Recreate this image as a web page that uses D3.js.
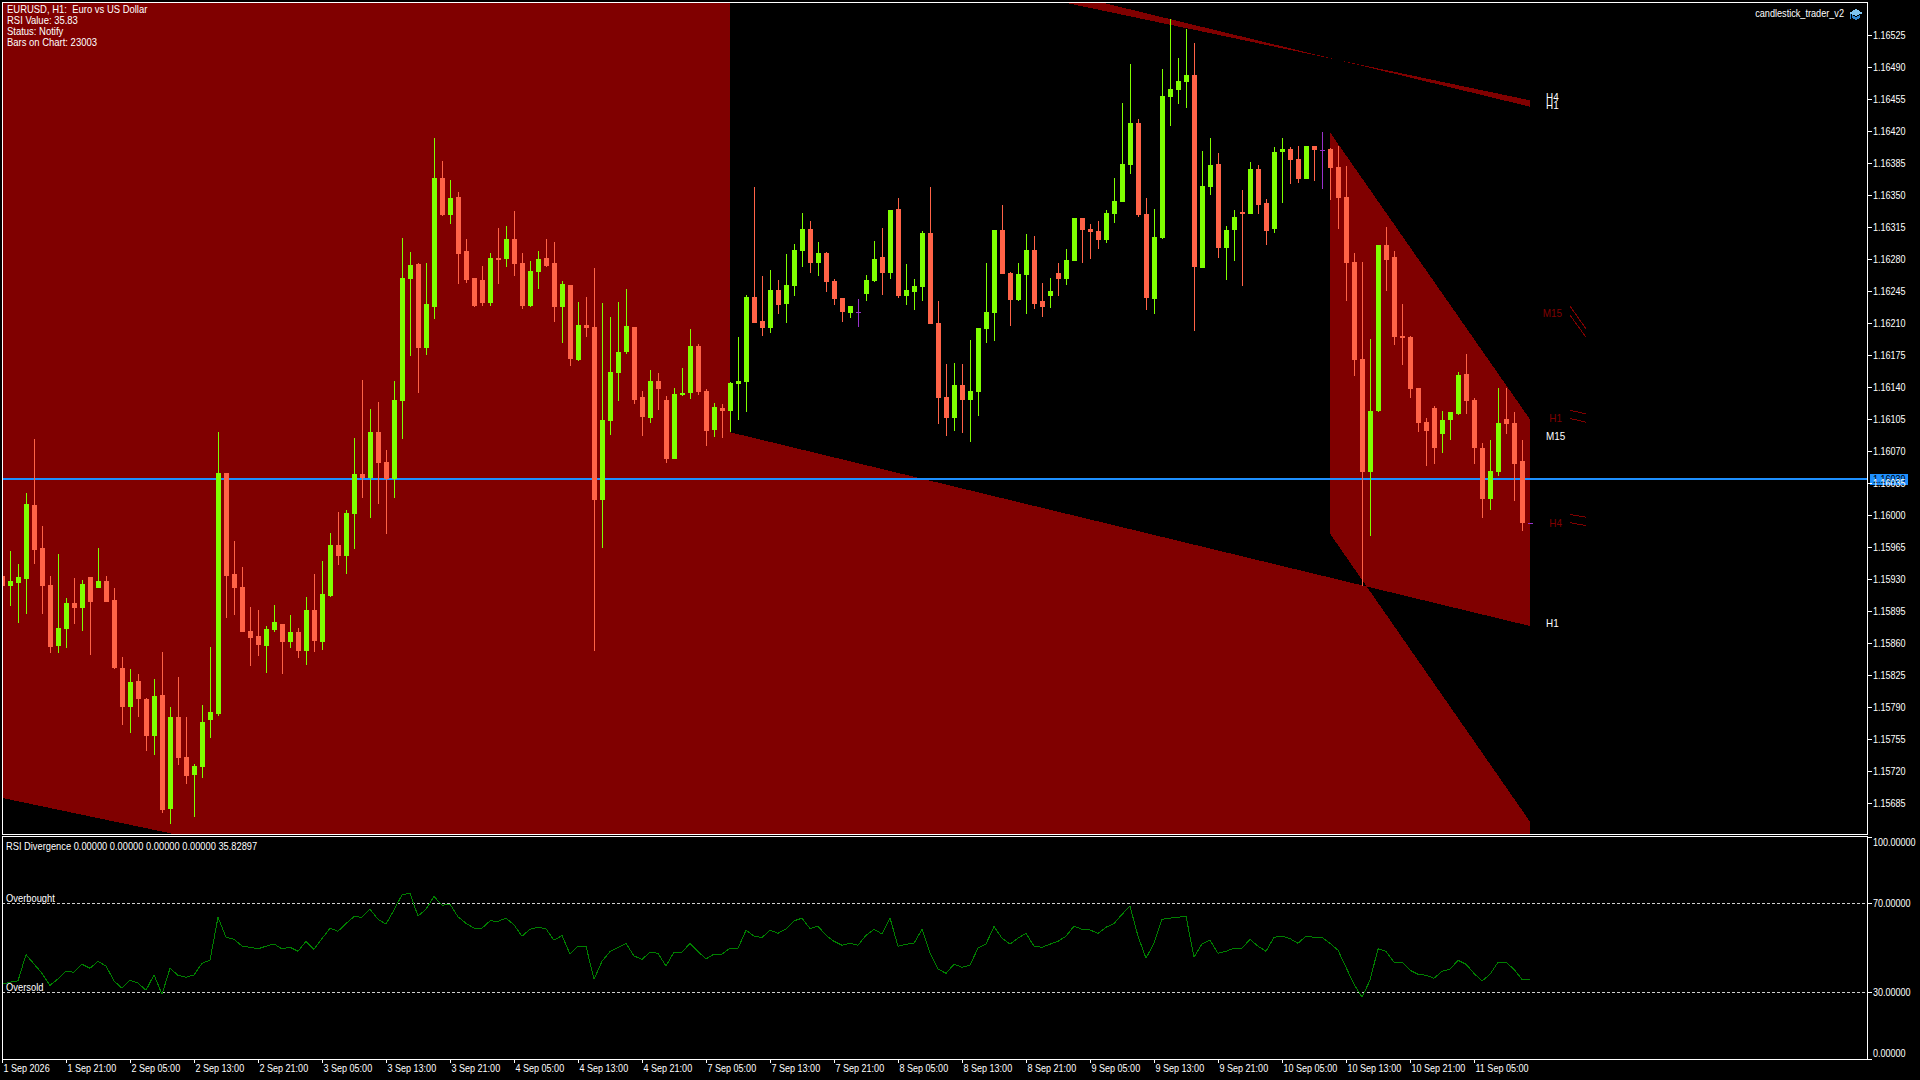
<!DOCTYPE html>
<html>
<head>
<meta charset="utf-8">
<title>EURUSD H1</title>
<script src="https://cdnjs.cloudflare.com/ajax/libs/d3/7.8.5/d3.min.js"></script>
<style>
	html, body { margin: 0; padding: 0; background: #000; overflow: hidden; }
	svg { display: block; }
	text { font-family: "Liberation Sans", sans-serif; font-size: 11px; fill: #fff; white-space: pre; }
	.axis text { fill: #fff; }
	.axis line { stroke: #fff; shape-rendering: crispEdges; }
	.crisp { shape-rendering: crispEdges; }
</style>
</head>
<body>
<svg id="chart" width="1920" height="1080"></svg>
<script>
const opens = [
	1.15933,1.15922,1.15925,1.15930,1.16010,1.15963,1.15923,1.15856,1.15875,1.15903,
	1.15898,1.15932,1.15920,1.15927,1.15906,1.15832,1.15789,1.15818,1.15798,1.15758,
	1.15803,1.15678,1.15779,1.15735,1.15715,1.15724,1.15775,1.15782,1.16045,1.15935,
	1.15921,1.15873,1.15867,1.15856,1.15874,1.15880,1.15861,1.15871,1.15851,1.15896,
	1.15861,1.15911,1.15967,1.15955,1.16001,1.16044,1.16040,1.16090,1.16057,1.16039,
	1.16124,1.16258,1.16274,1.16182,1.16227,1.16368,1.16328,1.16347,1.16288,1.16259,
	1.16256,1.16231,1.16281,1.16279,1.16301,1.16275,1.16228,1.16265,1.16281,1.16275,
	1.16227,1.16251,1.16169,1.16207,1.16205,1.16016,1.16102,1.16155,1.16178,1.16205,
	1.16128,1.16106,1.16146,1.16125,1.16061,1.16131,1.16133,1.16184,1.16135,1.16092,
	1.16116,1.16113,1.16143,1.16145,1.16238,1.16212,1.16204,1.16246,1.16230,1.16250,
	1.16288,1.16312,1.16275,1.16286,1.16255,1.16237,1.16220,1.16221,1.16241,1.16255,
	1.16282,1.16264,1.16334,1.16239,1.16243,1.16249,1.16308,1.16209,1.16129,1.16106,
	1.16142,1.16125,1.16134,1.16203,1.16220,1.16311,1.16264,1.16235,1.16262,1.16289,
	1.16234,1.16239,1.16264,1.16258,1.16277,1.16324,1.16312,1.16310,1.16300,1.16329,
	1.16342,1.16382,1.16428,1.16329,1.16236,1.16302,1.16457,1.16464,1.16473,1.16481,
	1.16270,1.16358,1.16383,1.16292,1.16311,1.16331,1.16329,1.16378,1.16341,1.16312,
	1.16397,1.16400,1.16389,1.16367,1.16403,1.16399,1.16400,1.16380,1.16347,1.16276,
	1.16170,1.16046,1.16113,1.16295,1.16282,1.16195,1.16194,1.16138,1.16101,1.16116,
	1.16088,1.16103,1.16110,1.16154,1.16125,1.16073,1.16017,1.16046,1.16104,1.16100,1.16058,1.15991
]
const highs = [
	1.15933,1.15960,1.15946,1.16024,1.16083,1.15987,1.15933,1.15957,1.15909,1.15931,
	1.15928,1.15932,1.15963,1.15933,1.15920,1.15844,1.15831,1.15826,1.15799,1.15820,
	1.15850,1.15789,1.15822,1.15779,1.15727,1.15792,1.15855,1.16090,1.16045,1.15971,
	1.15943,1.15899,1.15896,1.15878,1.15901,1.15880,1.15890,1.15876,1.15910,1.15935,
	1.15949,1.15980,1.16003,1.16005,1.16084,1.16147,1.16115,1.16123,1.16071,1.16146,
	1.16302,1.16287,1.16275,1.16275,1.16412,1.16387,1.16366,1.16353,1.16301,1.16259,
	1.16272,1.16286,1.16313,1.16316,1.16332,1.16286,1.16277,1.16288,1.16301,1.16298,
	1.16255,1.16251,1.16232,1.16238,1.16270,1.16231,1.16216,1.16232,1.16247,1.16205,
	1.16135,1.16158,1.16155,1.16130,1.16138,1.16160,1.16203,1.16187,1.16137,1.16122,
	1.16121,1.16145,1.16194,1.16240,1.16358,1.16261,1.16267,1.16257,1.16285,1.16296,
	1.16330,1.16321,1.16298,1.16287,1.16258,1.16237,1.16228,1.16236,1.16262,1.16299,
	1.16313,1.16333,1.16346,1.16274,1.16258,1.16310,1.16358,1.16234,1.16165,1.16166,
	1.16165,1.16191,1.16204,1.16275,1.16311,1.16339,1.16265,1.16275,1.16307,1.16305,
	1.16253,1.16259,1.16275,1.16290,1.16324,1.16324,1.16318,1.16321,1.16333,1.16368,
	1.16450,1.16493,1.16433,1.16346,1.16334,1.16487,1.16542,1.16499,1.16531,1.16516,
	1.16398,1.16412,1.16395,1.16316,1.16333,1.16355,1.16385,1.16382,1.16345,1.16402,
	1.16412,1.16402,1.16403,1.16403,1.16403,1.16418,1.16401,1.16403,1.16381,1.16286,
	1.16276,1.16192,1.16295,1.16315,1.16288,1.16230,1.16195,1.16138,1.16106,1.16119,
	1.16113,1.16112,1.16156,1.16176,1.16127,1.16078,1.16081,1.16138,1.16138,1.16112,1.16081,1.15991
]
const lows = [
	1.15922,1.15900,1.15881,1.15891,1.15946,1.15891,1.15849,1.15849,1.15854,1.15880,
	1.15873,1.15846,1.15920,1.15904,1.15831,1.15770,1.15761,1.15779,1.15741,1.15737,
	1.15674,1.15661,1.15726,1.15705,1.15669,1.15712,1.15756,1.15780,1.15887,1.15890,
	1.15871,1.15834,1.15845,1.15827,1.15871,1.15826,1.15854,1.15843,1.15835,1.15850,
	1.15852,1.15910,1.15945,1.15935,1.15962,1.16018,1.15996,1.16012,1.15979,1.16018,
	1.16083,1.16173,1.16133,1.16174,1.16214,1.16326,1.16318,1.16252,1.16253,1.16227,
	1.16228,1.16228,1.16252,1.16271,1.16261,1.16225,1.16227,1.16247,1.16271,1.16211,
	1.16188,1.16162,1.16168,1.16194,1.15851,1.15963,1.16087,1.16124,1.16176,1.16121,
	1.16086,1.16100,1.16114,1.16056,1.16061,1.16130,1.16126,1.16131,1.16075,1.16085,
	1.16084,1.16090,1.16103,1.16112,1.16209,1.16195,1.16199,1.16219,1.16209,1.16239,
	1.16271,1.16264,1.16261,1.16243,1.16229,1.16211,1.16215,1.16205,1.16234,1.16254,
	1.16240,1.16258,1.16237,1.16229,1.16224,1.16234,1.16208,1.16099,1.16086,1.16091,
	1.16089,1.16079,1.16108,1.16188,1.16190,1.16263,1.16206,1.16234,1.16219,1.16225,
	1.16216,1.16226,1.16239,1.16251,1.16277,1.16275,1.16279,1.16290,1.16297,1.16319,
	1.16342,1.16372,1.16325,1.16224,1.16219,1.16301,1.16425,1.16449,1.16445,1.16201,
	1.16270,1.16350,1.16281,1.16257,1.16277,1.16250,1.16329,1.16329,1.16295,1.16308,
	1.16341,1.16362,1.16363,1.16367,1.16365,1.16356,1.16344,1.16312,1.16234,1.16151,
	1.15922,1.15976,1.16112,1.16244,1.16185,1.16164,1.16127,1.16090,1.16053,1.16055,
	1.16067,1.16081,1.16109,1.16110,1.16055,1.15996,1.16005,1.16042,1.16088,1.16015,1.15982,1.15991
]
const closes = [
	1.15922,1.15927,1.15932,1.16011,1.15961,1.15922,1.15855,1.15876,1.15903,1.15898,
	1.15924,1.15904,1.15927,1.15904,1.15832,1.15789,1.15817,1.15798,1.15758,1.15801,
	1.15677,1.15779,1.15734,1.15714,1.15725,1.15773,1.15784,1.16045,1.15933,1.15920,
	1.15871,1.15865,1.15857,1.15875,1.15882,1.15861,1.15871,1.15851,1.15896,1.15862,
	1.15913,1.15967,1.15955,1.16002,1.16044,1.16040,1.16090,1.16056,1.16039,1.16125,
	1.16259,1.16273,1.16182,1.16230,1.16368,1.16328,1.16346,1.16285,1.16256,1.16228,
	1.16231,1.16281,1.16278,1.16301,1.16274,1.16228,1.16266,1.16279,1.16272,1.16227,
	1.16252,1.16170,1.16207,1.16204,1.16016,1.16103,1.16156,1.16178,1.16206,1.16125,
	1.16107,1.16146,1.16137,1.16061,1.16132,1.16133,1.16184,1.16134,1.16091,1.16118,
	1.16113,1.16144,1.16146,1.16238,1.16209,1.16204,1.16246,1.16229,1.16251,1.16289,
	1.16312,1.16275,1.16286,1.16254,1.16236,1.16221,1.16228,1.16221,1.16256,1.16279,
	1.16264,1.16333,1.16239,1.16246,1.16250,1.16308,1.16208,1.16127,1.16106,1.16142,
	1.16125,1.16135,1.16204,1.16221,1.16311,1.16263,1.16235,1.16263,1.16289,1.16230,
	1.16227,1.16244,1.16258,1.16278,1.16324,1.16311,1.16309,1.16300,1.16330,1.16343,
	1.16383,1.16428,1.16328,1.16237,1.16304,1.16458,1.16465,1.16474,1.16481,1.16271,
	1.16359,1.16382,1.16292,1.16311,1.16325,1.16329,1.16378,1.16339,1.16310,1.16397,
	1.16400,1.16388,1.16367,1.16403,1.16399,1.16399,1.16379,1.16346,1.16275,1.16169,
	1.16046,1.16113,1.16295,1.16278,1.16194,1.16193,1.16137,1.16100,1.16091,1.16073,
	1.16103,1.16112,1.16153,1.16124,1.16073,1.16017,1.16048,1.16100,1.16099,1.16055,1.15991,1.15991
]
const rsiValues = [
	33.6,34.5,35.1,46.9,42.7,38.5,33.1,36.0,39.4,39.0,
	42.6,40.8,43.9,41.8,35.1,31.8,35.4,34.1,30.9,37.8,
	29.1,40.8,37.6,36.7,37.8,43.0,44.4,63.7,54.7,53.8,
	50.8,50.2,49.5,50.7,51.7,49.5,50.2,48.4,52.9,49.3,
	54.1,58.8,57.4,60.9,64.0,63.7,67.3,62.8,60.6,67.0,
	73.8,74.5,64.2,67.3,73.1,69.1,69.6,63.9,61.0,58.8,
	58.8,62.1,61.9,63.3,60.3,55.2,58.3,59.2,58.5,53.4,
	55.5,47.1,50.7,50.7,35.8,43.9,48.3,50.1,51.9,46.3,
	44.8,48.0,47.5,41.8,48.0,48.0,52.0,48.3,45.0,47.1,
	47.1,49.8,49.8,57.9,55.3,54.6,57.9,56.5,58.5,62.1,
	63.3,58.6,59.7,55.6,52.9,51.1,52.0,51.1,55.6,58.3,
	56.2,63.4,50.7,51.6,52.0,58.3,47.5,40.5,38.5,42.6,
	41.2,42.1,49.9,51.7,59.5,54.3,51.6,54.3,56.5,50.7,
	50.2,51.6,52.9,55.2,59.7,58.3,58.0,56.5,59.2,60.9,
	65.0,68.7,55.2,45.3,52.0,62.8,63.3,63.7,64.2,45.7,
	51.7,53.4,47.5,48.4,49.8,49.8,53.8,50.7,48.4,54.7,
	55.2,54.1,52.0,55.2,54.7,54.7,52.0,48.9,41.2,33.6,
	27.8,35.4,49.5,48.4,43.5,43.5,39.9,38.1,37.6,36.3,
	39.4,40.3,44.4,42.6,38.5,35.0,38.1,43.5,43.5,40.3,35.8,35.83
]

const priceTicks = [
	1.16525,1.16490,1.16455,1.16420,1.16385,1.16350,1.16315,1.16280,1.16245,
	1.16210,1.16175,1.16140,1.16105,1.16070,1.16035,1.16000,1.15965,1.15930,
	1.15895,1.15860,1.15825,1.15790,1.15755,1.15720,1.15685
]
const timeLabels = [
	'1 Sep 2026','1 Sep 21:00','2 Sep 05:00','2 Sep 13:00','2 Sep 21:00','3 Sep 05:00',
	'3 Sep 13:00','3 Sep 21:00','4 Sep 05:00','4 Sep 13:00','4 Sep 21:00','7 Sep 05:00',
	'7 Sep 13:00','7 Sep 21:00','8 Sep 05:00','8 Sep 13:00','8 Sep 21:00','9 Sep 05:00',
	'9 Sep 13:00','9 Sep 21:00','10 Sep 05:00','10 Sep 13:00','10 Sep 21:00','11 Sep 05:00'
]
const barsPerLabel = 8
const rsiTicks = [100, 70, 30, 0]
const infoLines = ['EURUSD, H1:  Euro vs US Dollar', 'RSI Value: 35.83', 'Status: Notify', 'Bars on Chart: 23003']
const bidPrice = 1.16039

// trend channels: bar from/to, upper line from/to, lower line from/to
const channelBars = [[0, 191], [91, 191], [166, 191]]
const channelUpper = [[1.16804, 1.16453], [1.16659, 1.16446], [1.16418, 1.16104]]
const channelLower = [[1.15690, 1.15339], [1.16090, 1.15878], [1.15979, 1.15664]]

// the short stubs right of the chart
const stubBars = [196, 198]
const stubPrices = [
	[1.16228, 1.16203], [1.16218, 1.16194],
	[1.16114, 1.16110], [1.16105, 1.16101],
	[1.16000, 1.15997], [1.15991, 1.15988]
]

const whiteLabels = ['H4', 'H1', 'M15', 'H1']
const whiteLabelPrices = [1.16457, 1.16448, 1.16086, 1.15881]
const darkLabels = ['M15', 'H1', 'H4']
const darkLabelPrices = [1.16220, 1.16106, 1.15991]

const paneLeft = 2, paneRight = 1867, paneTop = 2, paneBottom = 834
const rsiTop = 836, rsiBottom = 1059

const green = '#7fff00', red = '#ff6347', purple = '#9932cc', fillRed = '#800000', blue = '#1e90ff'

// no narrow font here, so the texts get pressed to the terminal's width
function squeeze(selection, k) {
	selection.each(function() {
		this.setAttribute('textLength', this.getComputedTextLength() * k)
		this.setAttribute('lengthAdjust', 'spacingAndGlyphs')
	})
}

const svg = d3.select('#chart')
svg.append('rect').attr('width', 1920).attr('height', 1080).attr('fill', '#000')

const x = d3.scaleLinear().domain([0, 233.125]).range([paneLeft, paneRight])
const y = d3.scaleLinear().domain([1.1656, 1.1565]).range([2.5, 834.5])
const yRsi = d3.scaleLinear().domain([0, 100]).range([rsiBottom, rsiTop + 0.5])

svg.append('clipPath').attr('id', 'mainClip').append('rect')
	.attr('x', paneLeft).attr('y', paneTop).attr('width', paneRight - paneLeft).attr('height', paneBottom - paneTop)

const main = svg.append('g').attr('clip-path', 'url(#mainClip)')

// channels overlap as xor, so one evenodd path does it
const channelPath = channelBars.map((bars, i) => {
	const corners = [
		[x(bars[0]), y(channelUpper[i][0])],
		[x(bars[1]), y(channelUpper[i][1])],
		[x(bars[1]), y(channelLower[i][1])],
		[x(bars[0]), y(channelLower[i][0])]
	]
	return 'M' + corners.join('L') + 'Z'
}).join('')

main.append('path')
	.attr('class', 'crisp')
	.attr('d', channelPath)
	.attr('fill', fillRed)
	.attr('fill-rule', 'evenodd')

main.append('rect')
	.attr('class', 'crisp')
	.attr('x', paneLeft)
	.attr('y', Math.round(y(bidPrice)) - 1)
	.attr('width', paneRight - paneLeft)
	.attr('height', 2)
	.attr('fill', blue)

const candleColor = i => closes[i] > opens[i] ? green : closes[i] < opens[i] ? red : purple

const candles = main.selectAll('g.candle')
	.data(d3.range(opens.length))
	.join('g')
	.attr('class', 'candle crisp')
	.attr('fill', candleColor)

candles.append('rect')
	.attr('x', i => x(i))
	.attr('width', 1)
	.attr('y', i => Math.round(y(highs[i])))
	.attr('height', i => Math.max(1, Math.round(y(lows[i])) - Math.round(y(highs[i]))))

candles.append('rect')
	.attr('x', i => x(i) - 2)
	.attr('width', 5)
	.attr('y', i => Math.round(y(Math.max(opens[i], closes[i]))))
	.attr('height', i => Math.max(1, Math.round(y(Math.min(opens[i], closes[i]))) - Math.round(y(Math.max(opens[i], closes[i])))))

// stubs and labels sit to the right of the last bar
svg.selectAll('line.stub')
	.data(stubPrices)
	.join('line')
	.attr('class', 'stub crisp')
	.attr('x1', x(stubBars[0]))
	.attr('x2', x(stubBars[1]))
	.attr('y1', d => y(d[0]))
	.attr('y2', d => y(d[1]))
	.attr('stroke', fillRed)

svg.selectAll('text.white-label')
	.data(whiteLabels)
	.join('text')
	.attr('class', 'white-label')
	.attr('x', x(193))
	.attr('y', (d, i) => y(whiteLabelPrices[i]) + 4)
	.text(d => d)
	.call(squeeze, 0.9)

svg.selectAll('text.dark-label')
	.data(darkLabels)
	.join('text')
	.attr('class', 'dark-label')
	.attr('x', x(195))
	.attr('y', (d, i) => y(darkLabelPrices[i]) + 4)
	.attr('text-anchor', 'end')
	.style('fill', fillRed)
	.text(d => d)
	.call(squeeze, 0.9)

svg.selectAll('text.info')
	.data(infoLines)
	.join('text')
	.attr('class', 'info')
	.attr('x', 7)
	.attr('y', (d, i) => 13 + i * 11)
	.text(d => d)
	.call(squeeze, 0.86)

svg.append('text')
	.attr('x', 1844)
	.attr('y', 17)
	.attr('text-anchor', 'end')
	.text('candlestick_trader_v2')
	.call(squeeze, 0.83)

// little mortarboard icon
const cap = svg.append('g').attr('class', 'crisp')
cap.append('path').attr('d', 'M1849 13L1856 9L1863 13L1856 16Z').attr('fill', '#7fc4f0')
cap.append('path').attr('d', 'M1852 15L1856 17L1860 15L1860 18L1856 20L1852 18Z').attr('fill', '#2f86d0')
cap.append('rect').attr('x', 1850).attr('y', 14).attr('width', 1).attr('height', 5).attr('fill', '#2f86d0')

// rsi pane
const rsiLine = d3.line()
	.x((d, i) => x(i))
	.y(d => yRsi(d))

svg.selectAll('line.level')
	.data([70, 30])
	.join('line')
	.attr('class', 'level crisp')
	.attr('x1', paneLeft)
	.attr('x2', paneRight)
	.attr('y1', d => Math.floor(yRsi(d)) + 0.5)
	.attr('y2', d => Math.floor(yRsi(d)) + 0.5)
	.attr('stroke', '#d0d0d0')
	.attr('stroke-dasharray', '3,2')

svg.append('path')
	.datum(rsiValues)
	.attr('class', 'crisp')
	.attr('d', rsiLine)
	.attr('fill', 'none')
	.attr('stroke', '#008000')

svg.append('text').attr('x', 6).attr('y', 850).text('RSI Divergence 0.00000 0.00000 0.00000 0.00000 35.82897').call(squeeze, 0.845)
svg.append('text').attr('x', 6).attr('y', 902).text('Overbought').call(squeeze, 0.85)
svg.append('text').attr('x', 6).attr('y', 991).text('Oversold').call(squeeze, 0.85)

// price axis, bid label goes under the tick texts
svg.append('rect')
	.attr('class', 'crisp')
	.attr('x', 1870)
	.attr('y', 474)
	.attr('width', 38)
	.attr('height', 11)
	.attr('fill', blue)
svg.append('text')
	.attr('x', 1873)
	.attr('y', 483)
	.style('fill', '#000')
	.text(d3.format('.5f')(bidPrice))
	.call(squeeze, 0.82)

const priceAxis = d3.axisRight(y)
	.tickValues(priceTicks)
	.tickFormat(d3.format('.5f'))
	.tickSize(4)
	.tickPadding(1)

svg.append('g')
	.attr('class', 'axis')
	.attr('transform', `translate(${paneRight + 1},0)`)
	.call(priceAxis)
	.call(g => g.select('.domain').remove())
	.call(g => g.selectAll('.tick text').call(squeeze, 0.82))

const rsiAxis = d3.axisRight(yRsi)
	.tickValues(rsiTicks)
	.tickFormat(d3.format('.5f'))
	.tickSize(4)
	.tickPadding(1)

svg.append('g')
	.attr('class', 'axis')
	.attr('transform', `translate(${paneRight + 1},0)`)
	.call(rsiAxis)
	.call(g => g.select('.domain').remove())
	.call(g => g.selectAll('.tick text')
		.attr('dy', d => d === 100 ? '0.79em' : d === 0 ? '-0.2em' : '0.32em')
		.call(squeeze, 0.82))

const timeAxis = d3.axisBottom(x)
	.tickValues(timeLabels.map((d, i) => i * barsPerLabel))
	.tickFormat((d, i) => timeLabels[i])
	.tickSize(4)
	.tickPadding(1)

svg.append('g')
	.attr('class', 'axis')
	.attr('transform', `translate(0,${rsiBottom})`)
	.call(timeAxis)
	.call(g => g.select('.domain').remove())
	.call(g => g.selectAll('.tick text')
		.attr('text-anchor', 'start')
		.attr('x', 1)
		.call(squeeze, 0.82))

// pane borders on top of everything
const borders = [[paneLeft, paneTop, paneRight, paneBottom], [paneLeft, rsiTop, paneRight, rsiBottom]]
svg.selectAll('rect.border')
	.data(borders)
	.join('rect')
	.attr('class', 'border crisp')
	.attr('x', d => d[0] + 0.5)
	.attr('y', d => d[1] + 0.5)
	.attr('width', d => d[2] - d[0])
	.attr('height', d => d[3] - d[1])
	.attr('fill', 'none')
	.attr('stroke', '#fff')
</script>
</body>
</html>
